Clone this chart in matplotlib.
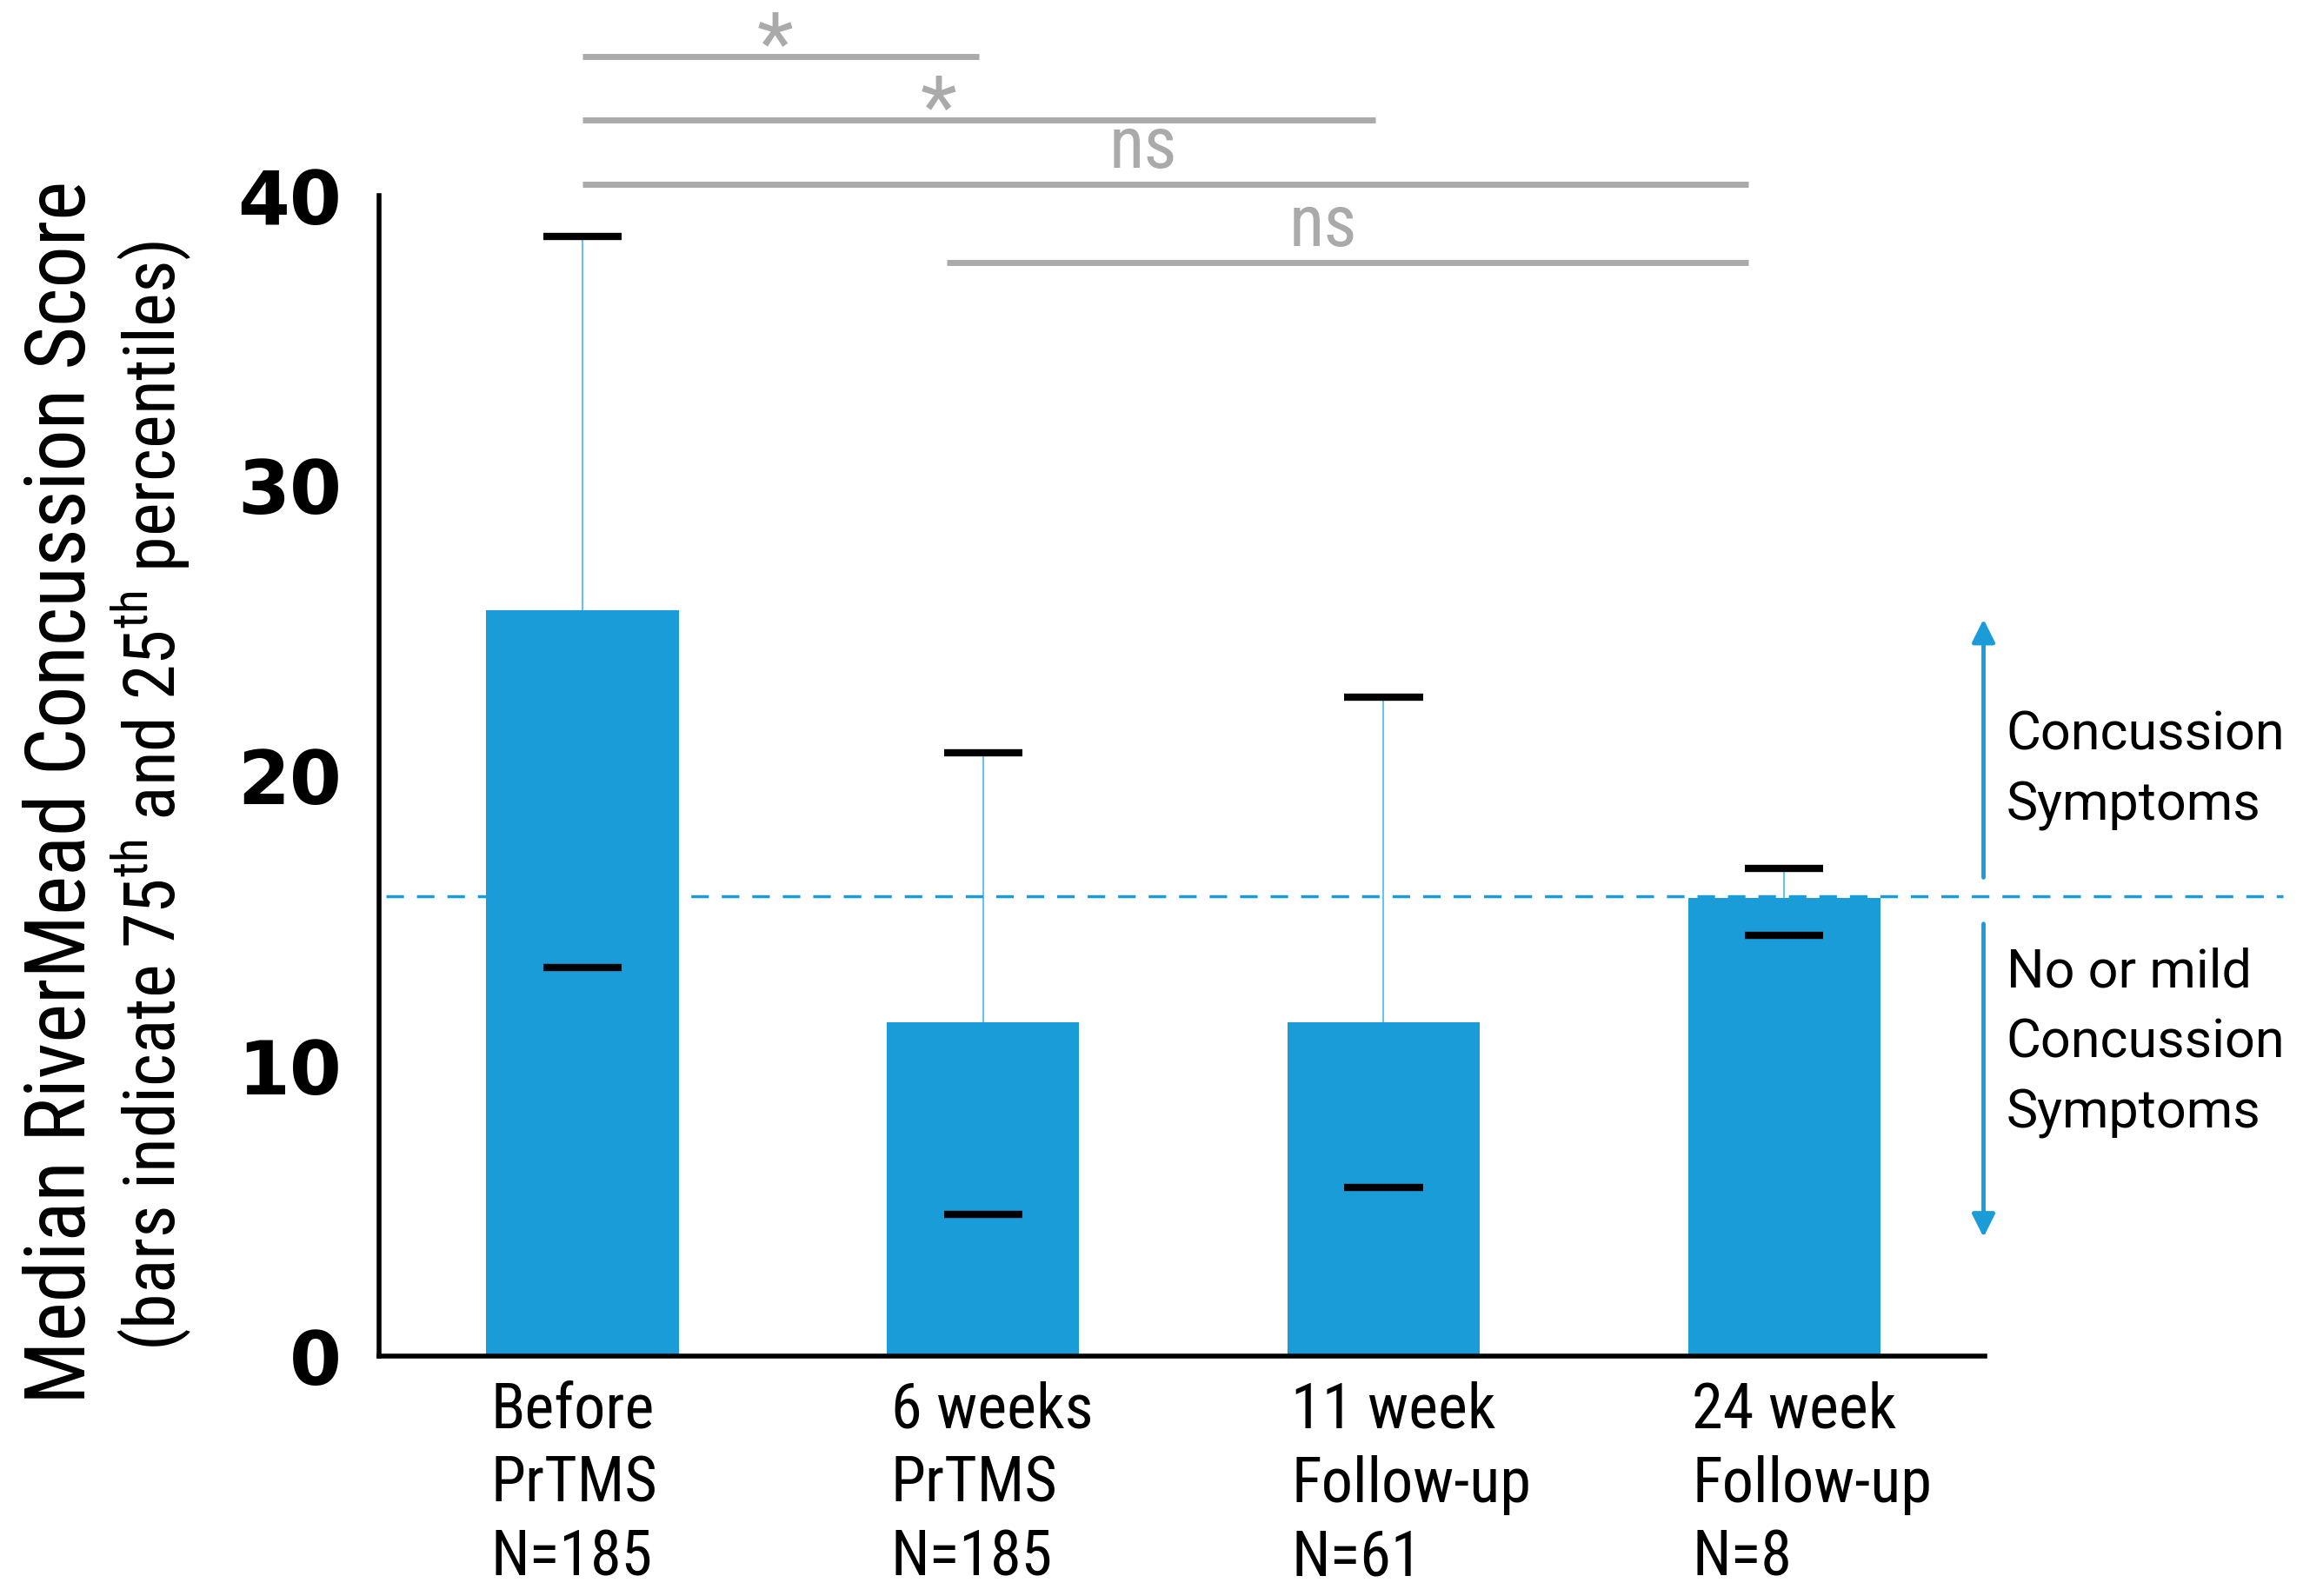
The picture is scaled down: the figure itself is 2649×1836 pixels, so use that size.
import matplotlib
matplotlib.use('Agg')
import matplotlib.pyplot as plt

# condensed font for most labels (first one found is used)
narrow = ['Roboto Condensed', 'Liberation Sans Narrow', 'Open Sans Condensed',
          'Noto Sans Condensed', 'DejaVu Sans']
plt.rcParams['font.stretch'] = 'condensed'

groups = ['Before\nPrTMS\nN=185', '6 weeks\nPrTMS\nN=185',
          '11 week\nFollow-up\nN=61', '24 week\nFollow-up\nN=8']
p75 = [25.7, 11.5, 11.5, 15.8]      # bar tops (75th percentile)
upper = [38.6, 20.8, 22.7, 16.8]    # upper caps
median = [13.4, 4.9, 5.8, 14.5]
cutoff = 15.85

# significance brackets
sig_from = [0, 0, 0, 0.91]
sig_to = [0.99, 1.98, 2.91, 2.91]
sig_y = [44.8, 42.6, 40.4, 37.7]
sig_text = ['*', '*', 'ns', 'ns']
sig_text_x = [0.48, 0.89, 1.40, 1.85]

blue = '#1a9cd8'
gray = '#aaaaaa'

fig = plt.figure(figsize=(26.49, 18.36), dpi=100)
ax = fig.add_axes([0.1646, 0.1503, 0.6972, 0.7271])

x = list(range(len(groups)))
ax.bar(x, p75, width=0.48, color=blue, zorder=2)
ax.vlines(x, p75, upper, color='#6cc0ec', lw=1.5, zorder=2)
ax.hlines(upper, [i - 0.098 for i in x], [i + 0.098 for i in x], color='black', lw=6, zorder=3)
ax.hlines(median, [i - 0.098 for i in x], [i + 0.098 for i in x], color='black', lw=6, zorder=3)

ax.set_xlim(-0.508, 3.501)
ax.set_ylim(0, 40)
for s in ['top', 'right']:
    ax.spines[s].set_visible(False)
for s in ['left', 'bottom']:
    ax.spines[s].set_linewidth(4)
ax.set_xticks([])
ax.set_yticks([0, 10, 20, 30, 40])
ax.set_yticklabels(['0', '10', '20', '30', '40'], fontfamily='DejaVu Sans', fontweight='bold',
                   fontstretch='normal')
ax.tick_params(axis='y', length=0, pad=31, labelsize=62)

for i, lab in enumerate(groups):
    ax.text(i - 0.23, -0.85, lab, ha='left', va='top', fontsize=52, family=narrow,
            linespacing=1.3, clip_on=False)

# cutoff line
ax.plot([-0.49, 4.245], [cutoff, cutoff], ls=(0, (5.8, 4.3)), lw=2.5, color=blue, clip_on=False, zorder=4)

# arrows + side text
ax.annotate('', xy=(3.498, 25.4), xytext=(3.498, 16.5), annotation_clip=False,
            arrowprops=dict(arrowstyle='-|>', color=blue, lw=3.5, mutation_scale=40, shrinkA=0, shrinkB=0))
ax.annotate('', xy=(3.498, 4.1), xytext=(3.498, 14.9), annotation_clip=False,
            arrowprops=dict(arrowstyle='-|>', color=blue, lw=3.5, mutation_scale=40, shrinkA=0, shrinkB=0))
ax.text(3.555, 20.2, 'Concussion\nSymptoms', ha='left', va='center', fontsize=44,
        family='Roboto', stretch='normal', linespacing=1.5, clip_on=False)
ax.text(3.555, 10.8, 'No or mild\nConcussion\nSymptoms', ha='left', va='center', fontsize=44,
        family='Roboto', stretch='normal', linespacing=1.5, clip_on=False)

# significance lines
for a, b, y, t, tx in zip(sig_from, sig_to, sig_y, sig_text, sig_text_x):
    ax.plot([a, b], [y, y], color=gray, lw=5, solid_capstyle='butt', clip_on=False)
    if t == '*':
        ax.text(tx, y - 0.5, t, ha='center', va='baseline', fontsize=70, color=gray,
                family=narrow, clip_on=False)
    else:
        ax.text(tx, y + 0.56, t, ha='center', va='baseline', fontsize=60, color=gray,
                family=narrow, clip_on=False)

# y axis titles, sized to span the same height as in the original
t1 = fig.text(0.027, 0.5038, 'Median RiverMead Concussion Score', rotation=90, ha='center',
              va='center', fontsize=73, family=narrow)
t2 = fig.text(0.066, 0.5016, '(bars indicate 75$^{\\mathregular{th}}$ and 25$^{\\mathregular{th}}$ percentiles)',
              rotation=90, ha='center', va='center', fontsize=52, family=narrow)
fig.canvas.draw()
r = fig.canvas.get_renderer()
for t, target in [(t1, 1407), (t2, 1277)]:
    h = t.get_window_extent(r).height
    t.set_fontsize(t.get_fontsize() * target / h)

fig.savefig('out.png', dpi=100)
